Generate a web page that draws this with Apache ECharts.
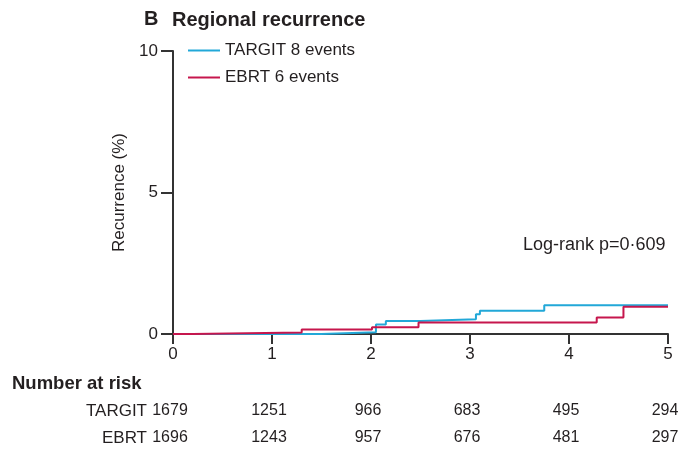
<!DOCTYPE html>
<html>
<head>
<meta charset="utf-8">
<script src="https://cdn.jsdelivr.net/npm/echarts@6/dist/echarts.min.js"></script>
<style>
  html, body { margin: 0; padding: 0; background: #fff; }
  #chart { width: 687px; height: 460px; }
</style>
</head>
<body>
<div id="chart"></div>
<script>
// Kaplan-Meier style cumulative regional recurrence (%), by year
const targitTime = [0, 1.5, 2.05, 2.15, 2.5, 3.06, 3.1, 3.75, 5.0];
const targitRec  = [0, 0.06, 0.34, 0.46, 0.52, 0.70, 0.82, 1.02, 1.02];
const ebrtTime   = [0, 0.2, 1.3, 2.01, 2.48, 4.28, 4.55, 5.0];
const ebrtRec    = [0, 0.05, 0.16, 0.24, 0.41, 0.58, 0.96, 0.96];

const seriesNames = ['TARGIT 8 events', 'EBRT 6 events'];
const riskGroups  = ['TARGIT', 'EBRT'];
const riskYears   = [0, 1, 2, 3, 4, 5];
const targitRisk  = [1679, 1251, 966, 683, 495, 294];
const ebrtRisk    = [1696, 1243, 957, 676, 481, 297];

const FONT = '"Liberation Sans", Arial, sans-serif';
const INK = '#231f20';
const BLUE = '#22a8d8';
const RED = '#c6164d';

const pairs = (xs, ys) => xs.map((x, i) => [x, ys[i]]);

const chart = echarts.init(document.getElementById('chart'), null, { renderer: 'canvas' });

const axisLine = { show: true, lineStyle: { color: '#333', width: 2 } };

chart.setOption({
  animation: false,
  backgroundColor: '#fff',
  textStyle: { fontFamily: FONT, color: INK },
  grid: { left: 173, right: 19, top: 51, bottom: 126 },
  legend: {
    orient: 'vertical',
    left: 188,
    top: 42,
    padding: 0,
    icon: 'rect',
    itemWidth: 32,
    itemHeight: 2,
    itemGap: 10,
    textStyle: { fontFamily: FONT, fontSize: 17, lineHeight: 17, color: INK },
    data: seriesNames
  },
  xAxis: {
    type: 'value', min: 0, max: 5, interval: 1,
    axisLine: axisLine,
    axisTick: { show: true, inside: false, length: 10, lineStyle: { color: '#333', width: 2 } },
    axisLabel: { margin: 12, fontSize: 17, color: INK, fontFamily: FONT },
    splitLine: { show: false }
  },
  yAxis: {
    type: 'value', min: 0, max: 10, interval: 5,
    name: 'Recurrence (%)', nameLocation: 'middle', nameRotate: 90, nameGap: 45,
    nameTextStyle: { fontSize: 17, color: INK, fontFamily: FONT },
    axisLine: Object.assign({ onZero: false }, axisLine),
    axisTick: { show: true, inside: false, length: 12, lineStyle: { color: '#333', width: 2 } },
    axisLabel: { margin: 15, fontSize: 17, color: INK, fontFamily: FONT },
    splitLine: { show: false }
  },
  series: [
    {
      name: seriesNames[0], type: 'line', step: 'end', symbol: 'none',
      lineStyle: { color: BLUE, width: 2 }, itemStyle: { color: BLUE },
      data: pairs(targitTime, targitRec), z: 2
    },
    {
      name: seriesNames[1], type: 'line', step: 'end', symbol: 'none',
      lineStyle: { color: RED, width: 2 }, itemStyle: { color: RED },
      data: pairs(ebrtTime, ebrtRec), z: 3
    }
  ]
});

// Title, p-value note and the number-at-risk table under the x axis
const graphics = [
  { type: 'text', left: 144, top: 9, style: { text: 'B', font: 'bold 20px ' + FONT, fill: INK } },
  { type: 'text', left: 172, top: 10, style: { text: 'Regional recurrence', font: 'bold 20px ' + FONT, fill: INK } },
  { type: 'text', left: 523, top: 236, style: { text: 'Log-rank p=0\u00b7609', font: '18px ' + FONT, fill: INK } },
  { type: 'text', left: 12, top: 374, style: { text: 'Number at risk', font: 'bold 18.5px ' + FONT, fill: INK } }
];

const rowY = [411, 438];
const rows = [targitRisk, ebrtRisk];
riskGroups.forEach((g, r) => {
  graphics.push({
    type: 'text', x: 147, y: rowY[r],
    style: { text: g, font: '17px ' + FONT, fill: INK, align: 'right', verticalAlign: 'middle' }
  });
  riskYears.forEach((yr, i) => {
    const px = chart.convertToPixel({ xAxisIndex: 0 }, yr);
    graphics.push({
      type: 'text', x: px - 3, y: rowY[r],
      style: { text: String(rows[r][i]), font: '16px ' + FONT, fill: INK, align: 'center', verticalAlign: 'middle' }
    });
  });
});

chart.setOption({ graphic: graphics });
</script>
</body>
</html>
